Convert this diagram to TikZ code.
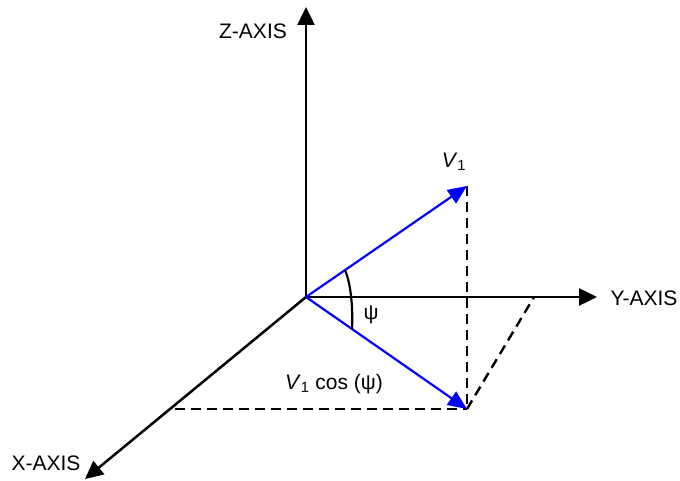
\documentclass[tikz,border=0pt]{standalone}
\usepackage{fontspec}
\setmainfont{Liberation Sans}
\usetikzlibrary{arrows.meta}

\begin{document}
\begin{tikzpicture}[
  x=1pt, y=-1pt,
  > = {Triangle[length=18pt, width=17pt]},
  font=\fontsize{21}{25}\selectfont,
  axis/.style={->, line width=2.5pt, black},
  vec/.style={-{Triangle[length=19pt, width=16pt]}, line width=2.2pt, blue},
  proj/.style={line width=2.4pt, dash pattern=on 10pt off 6pt},
  lbl/.style={inner sep=0pt}
]
  \useasboundingbox (0,0) rectangle (680,481);

  % --- Points ---
  \coordinate (O)  at (306, 297);
  \coordinate (zt) at (306, 7);
  \coordinate (yt) at (597, 297);
  \coordinate (xt) at (85, 479);
  \coordinate (V)  at (467, 186);
  \coordinate (P)  at (467, 409);
  \coordinate (F)  at (175, 409);
  \coordinate (yd) at (534, 297);
  \coordinate (a1) at (345, 270);
  \coordinate (a2) at (352, 329);

  % --- Projection lines ---
  \draw[proj] (V) -- (P);
  \draw[proj] (F) -- (P);
  \draw[proj] (P) -- (yd);

  % --- Axes ---
  \draw[axis] (O) -- (zt);
  \draw[axis] (O) -- (yt);
  \draw[axis] (O) -- (xt);

  % --- Vectors ---
  \draw[vec] (O) -- (V);
  \draw[vec] (O) -- (P);

  % --- Angle ---
  \draw[line width=2.2pt] (a1) .. controls (351, 284) and (353, 308) .. (a2);

  % --- Labels ---
  \node[lbl] (zlab) at (253, 31)  {Z-AXIS};
  \node[lbl] (ylab) at (644, 298) {Y-AXIS};
  \node[lbl] (xlab) at (46, 463)  {X-AXIS};
  \node[lbl] (vlab) at (454, 162) {\textit{V}\textsubscript{1}};
  \node[lbl] (psi)  at (371, 315) {ψ};
  \node[lbl] (cos)  at (334, 384) {\textit{V}\textsubscript{1} cos (ψ)};
\end{tikzpicture}
\end{document}
